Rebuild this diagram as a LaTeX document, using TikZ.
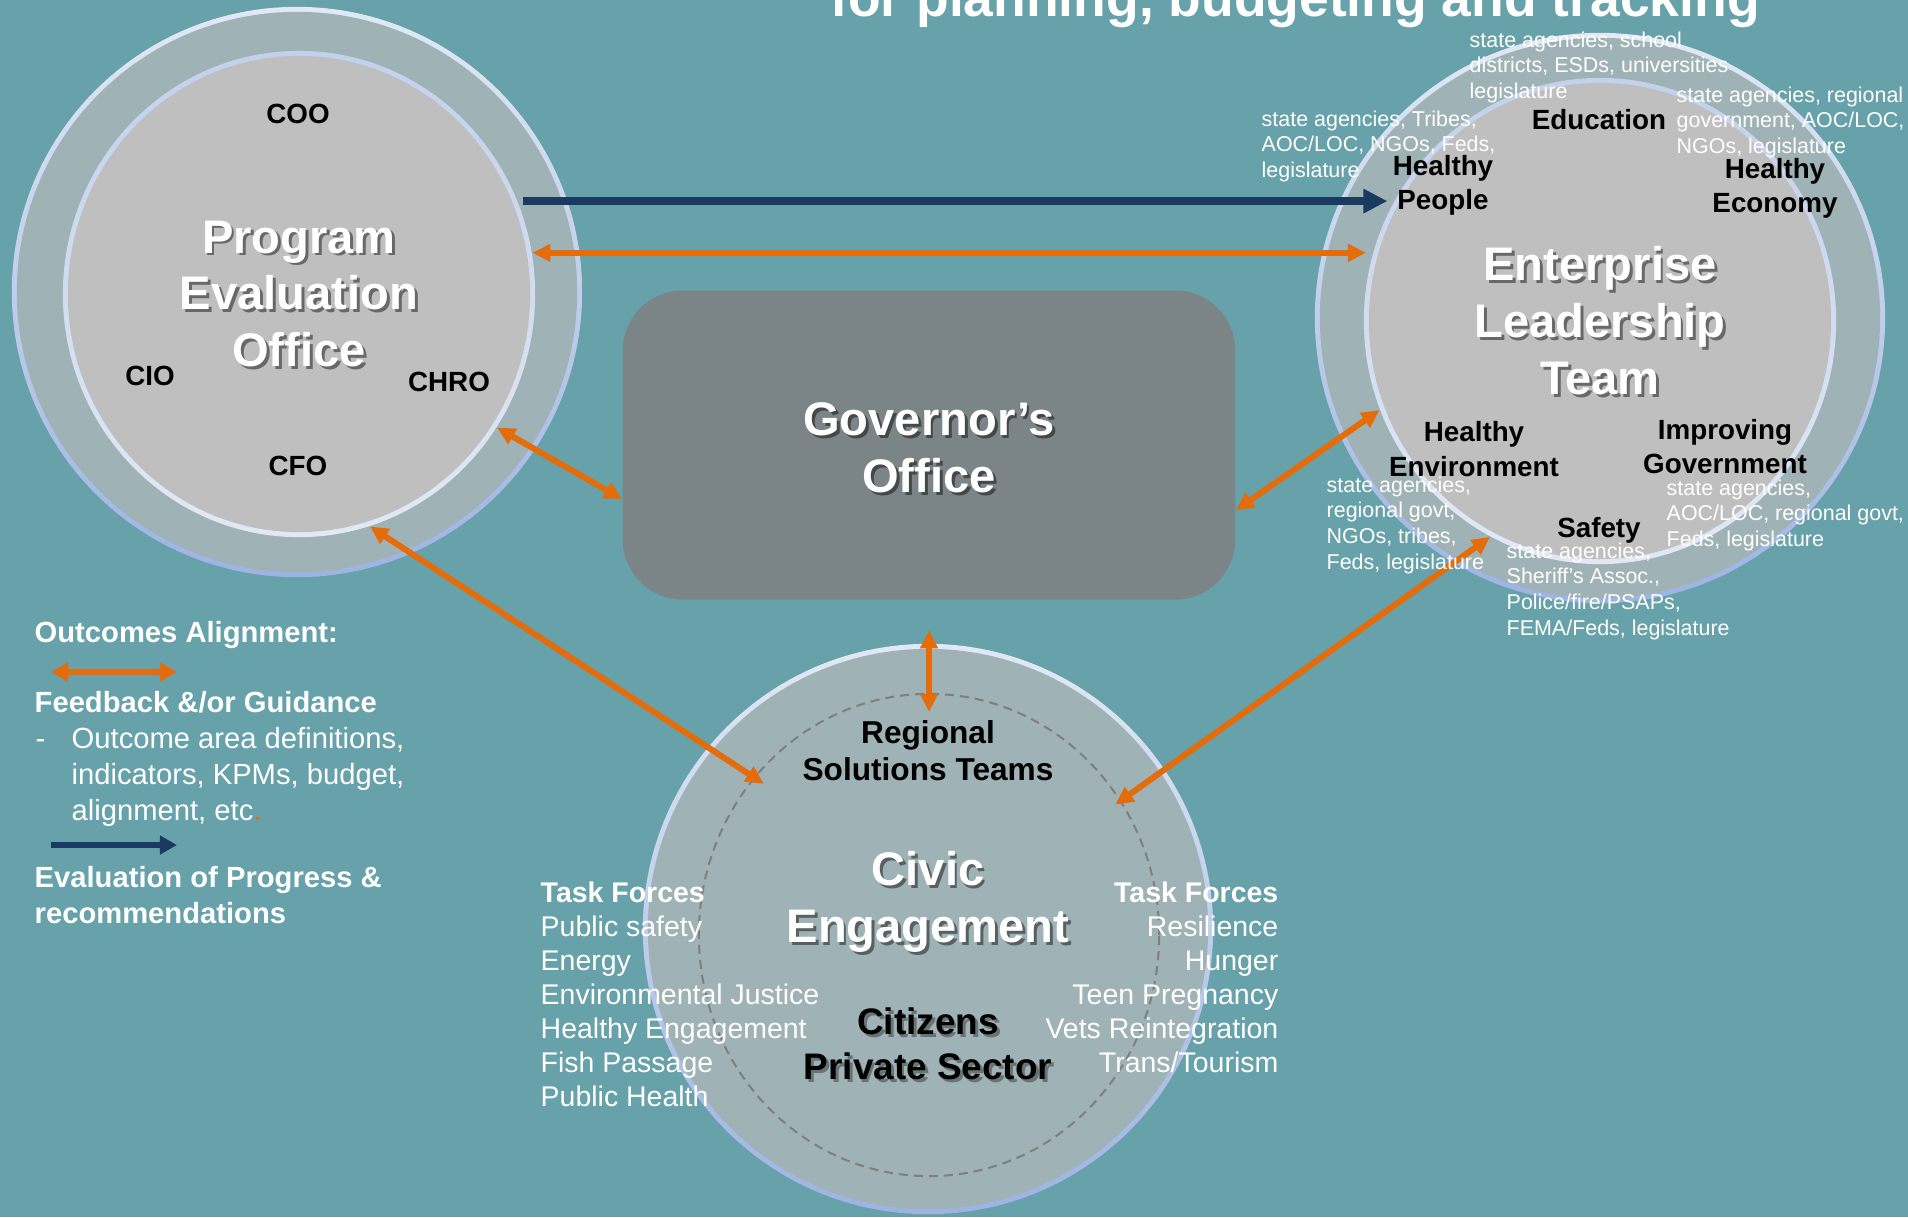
\documentclass[tikz,border=0pt]{standalone}
\usepackage{fontspec}
\setmainfont{Liberation Sans}
\usetikzlibrary{arrows.meta,shapes.geometric}

\definecolor{backteal}{HTML}{67A1A9}
\definecolor{bandgray}{HTML}{9FB2B5}
\definecolor{coregray}{HTML}{BFBFBF}
\definecolor{govgray}{HTML}{7B8486}
\definecolor{edgelight}{HTML}{E2E9F5}
\definecolor{edgeblue}{HTML}{9DB3E2}
\definecolor{orangearrow}{HTML}{E46C0A}
\definecolor{navyarrow}{HTML}{1B3A5F}
\definecolor{dashgray}{HTML}{7F7F7F}

\tikzset{
  ringedge/.style={circle, inner sep=0pt, minimum size=5.7cm,
    top color=edgelight, bottom color=edgeblue},
  ringband/.style={circle, inner sep=0pt, minimum size=5.6cm, fill=bandgray},
  coreedge/.style={ellipse, inner sep=0pt, minimum width=4.72cm, minimum height=4.86cm,
    top color=edgeblue!45!edgelight, bottom color=edgelight},
  corefill/.style={ellipse, inner sep=0pt, minimum width=4.62cm, minimum height=4.76cm,
    fill=coregray},
  bigtitle/.style={font=\fontsize{13.4}{16.2}\selectfont\bfseries, text=white,
    align=center, inner sep=0pt},
  titleshadow/.style={bigtitle, text=black, opacity=0.45, xshift=0.8pt, yshift=-0.8pt},
  rolelabel/.style={font=\fontsize{7.9}{9.7}\selectfont\bfseries, align=center,
    inner sep=0pt},
  stakeholders/.style={font=\fontsize{6.1}{7.28}\selectfont, text=white, align=left,
    anchor=north west, inner sep=0pt},
  taskforces/.style={font=\fontsize{8.1}{9.67}\selectfont, text=white, inner sep=0pt},
  legendtext/.style={font=\fontsize{8.3}{10.15}\selectfont, text=white, inner sep=0pt},
  feedback/.style={<->, draw=orangearrow, line width=0.06cm},
  evaluation/.style={->, draw=navyarrow, line width=0.075cm,
    >={Triangle[length=0.24cm,width=0.23cm]}},
}

\begin{document}
\begin{tikzpicture}[x=0.01cm, y=-0.01cm, >={Triangle[length=0.18cm,width=0.17cm]}]

  % page
  \useasboundingbox (0,0) rectangle (1908,1217);
  \fill[backteal] (0,0) rectangle (1908,1217);

  \node[font=\fontsize{15.2}{18}\selectfont\bfseries,
        text=white,
        anchor=base,
        inner sep=0pt
        ] (title) at (1295,16) {for planning, budgeting and tracking};

  % program evaluation office
  \node[ringedge] (peo) at (297,292) {};
  \node[ringband] at (peo.center) {};
  \node[coreedge] (peoin) at (299,294) {};
  \node[corefill] at (peoin.center) {};

  % enterprise leadership team
  \node[ringedge] (elt) at (1600,318) {};
  \node[ringband] at (elt.center) {};
  \node[coreedge] (eltin) at (1600,321) {};
  \node[corefill] at (eltin.center) {};

  % civic engagement
  \node[ringedge] (civic) at (928,929) {};
  \node[ringband] at (civic.center) {};
  \node[ellipse,
        draw = dashgray,
        dash pattern = on 0.09cm off 0.06cm,
        line width = 0.02cm,
        minimum width = 4.6cm,
        minimum height = 4.82cm,
        inner sep = 0pt
        ] (rst) at (929,935) {};

  % governor's office
  \node[rectangle,
        rounded corners = 0.6cm,
        fill = govgray,
        minimum width = 6.12cm,
        minimum height = 3.09cm,
        inner sep = 0pt
        ] (gov) at (929,445) {};

  % connectors
  \draw[evaluation, shorten <=0.05cm, shorten >=0.06cm]
    (peoin.23) -- (peoin.23 -| eltin.150);
  \draw[feedback, shorten >=0.07cm] (peoin.10) -- (peoin.10 -| eltin.163);
  \draw[feedback] (peoin.-34) -- (gov.190);
  \draw[feedback] (eltin.202) -- (gov.-12);
  \draw[feedback, shorten >=-0.12cm] (peoin.-73) -- (rst.138);
  \draw[feedback, shorten >=-0.07cm] (eltin.243) -- (rst.35);
  \draw[feedback, shorten <=0.3cm, shorten >=-0.19cm] (gov.south) -- (rst.north);

  % labels, program evaluation office
  \node[titleshadow] at (peoin.center) {Program\\Evaluation\\Office};
  \node[bigtitle] (peolabel) at (peoin.center) {Program\\Evaluation\\Office};
  \node[rolelabel] (coo) at (298,114) {COO};
  \node[rolelabel] (cio) at (150,376) {CIO};
  \node[rolelabel] (chro) at (449,382) {CHRO};
  \node[rolelabel] (cfo) at (298,466) {CFO};

  % labels, governor's office
  \node[titleshadow] at (929,448) {Governor’s\\Office};
  \node[bigtitle] (govlabel) at (929,448) {Governor’s\\Office};

  % labels, enterprise leadership team
  \node[titleshadow] at (eltin.center) {Enterprise\\Leadership\\Team};
  \node[bigtitle] (eltlabel) at (eltin.center) {Enterprise\\Leadership\\Team};
  \node[rolelabel] (edu) at (1599,120) {Education};
  \node[rolelabel] (people) at (1443,185) {Healthy\\People};
  \node[rolelabel] (economy) at (1775,188) {Healthy\\Economy};
  \node[rolelabel] (environ) at (1474,449) {Healthy\\Environment};
  \node[rolelabel] (improv) at (1725,447) {Improving\\Government};
  \node[rolelabel] (safety) at (1599,530) {Safety};

  \node[stakeholders] (edupart) at (1469,31)
    {state agencies, school\\districts, ESDs, universities\\legislature};
  \node[stakeholders] (peoplepart) at (1261,110)
    {state agencies, Tribes,\\AOC/LOC, NGOs, Feds,\\legislature};
  \node[stakeholders] (economypart) at (1676,86)
    {state agencies, regional\\government, AOC/LOC,\\NGOs, legislature};
  \node[stakeholders] (environpart) at (1326,476)
    {state agencies,\\regional govt,\\NGOs, tribes,\\Feds, legislature};
  \node[stakeholders] (improvpart) at (1666,479)
    {state agencies,\\AOC/LOC, regional govt,\\Feds, legislature};
  \node[stakeholders] (safetypart) at (1506,542)
    {state agencies,\\Sheriff’s Assoc.,\\Police/fire/PSAPs,\\FEMA/Feds, legislature};

  % labels, civic engagement
  \node[font=\fontsize{9}{10.5}\selectfont\bfseries,
        align=center,
        inner sep=0pt
        ] (rstlabel) at (928,751) {Regional\\Solutions Teams};
  \node[titleshadow] at (928,902) {Civic\\Engagement};
  \node[bigtitle] (civiclabel) at (928,902) {Civic\\Engagement};
  \node[font=\fontsize{10.5}{12.8}\selectfont\bfseries,
        text=black, opacity=0.35,
        align=center,
        inner sep=0pt,
        xshift=0.8pt, yshift=-0.8pt
        ] at (928,1044) {Citizens\\Private Sector};
  \node[font=\fontsize{10.5}{12.8}\selectfont\bfseries,
        align=center,
        inner sep=0pt
        ] (citizens) at (928,1044) {Citizens\\Private Sector};

  \node[taskforces, anchor=north west, align=left] (tfleft) at (540,881)
    {\textbf{Task Forces}\\Public safety\\Energy\\Environmental Justice\\Healthy Engagement\\Fish Passage\\Public Health};
  \node[taskforces, anchor=north east, align=right] (tfright) at (1279,881)
    {\textbf{Task Forces}\\Resilience\\Hunger\\Teen Pregnancy\\Vets Reintegration\\Trans/Tourism};

  % legend
  \node[legendtext, anchor=base west, font=\fontsize{8.3}{10.15}\selectfont\bfseries]
    (legendhead) at (34,642) {Outcomes Alignment:};
  \coordinate (fbleft) at (51,672);
  \coordinate (fbright) at (177,672);
  \draw[feedback, >={Triangle[length=0.17cm,width=0.18cm]}] (fbleft) -- (fbright);
  \node[legendtext, anchor=base west, font=\fontsize{8.3}{10.15}\selectfont\bfseries]
    (fblabel) at (34,712) {Feedback \&/or Guidance};
  \node[legendtext, anchor=base west] (fbdash) at (35,748) {-};
  \node[legendtext, anchor=north west, align=left] (fbitems) at (71,727)
    {Outcome area definitions,\\indicators, KPMs, budget,\\alignment, etc\textcolor{orangearrow}{.}};
  \coordinate (evleft) at (51,845);
  \coordinate (evright) at (177,845);
  \draw[evaluation, line width=0.06cm, >={Triangle[length=0.17cm,width=0.18cm]}]
    (evleft) -- (evright);
  \node[legendtext, anchor=north west, align=left,
        font=\fontsize{8.3}{10.2}\selectfont\bfseries]
    (evlabel) at (34,866) {Evaluation of Progress \&\\recommendations};

\end{tikzpicture}
\end{document}
